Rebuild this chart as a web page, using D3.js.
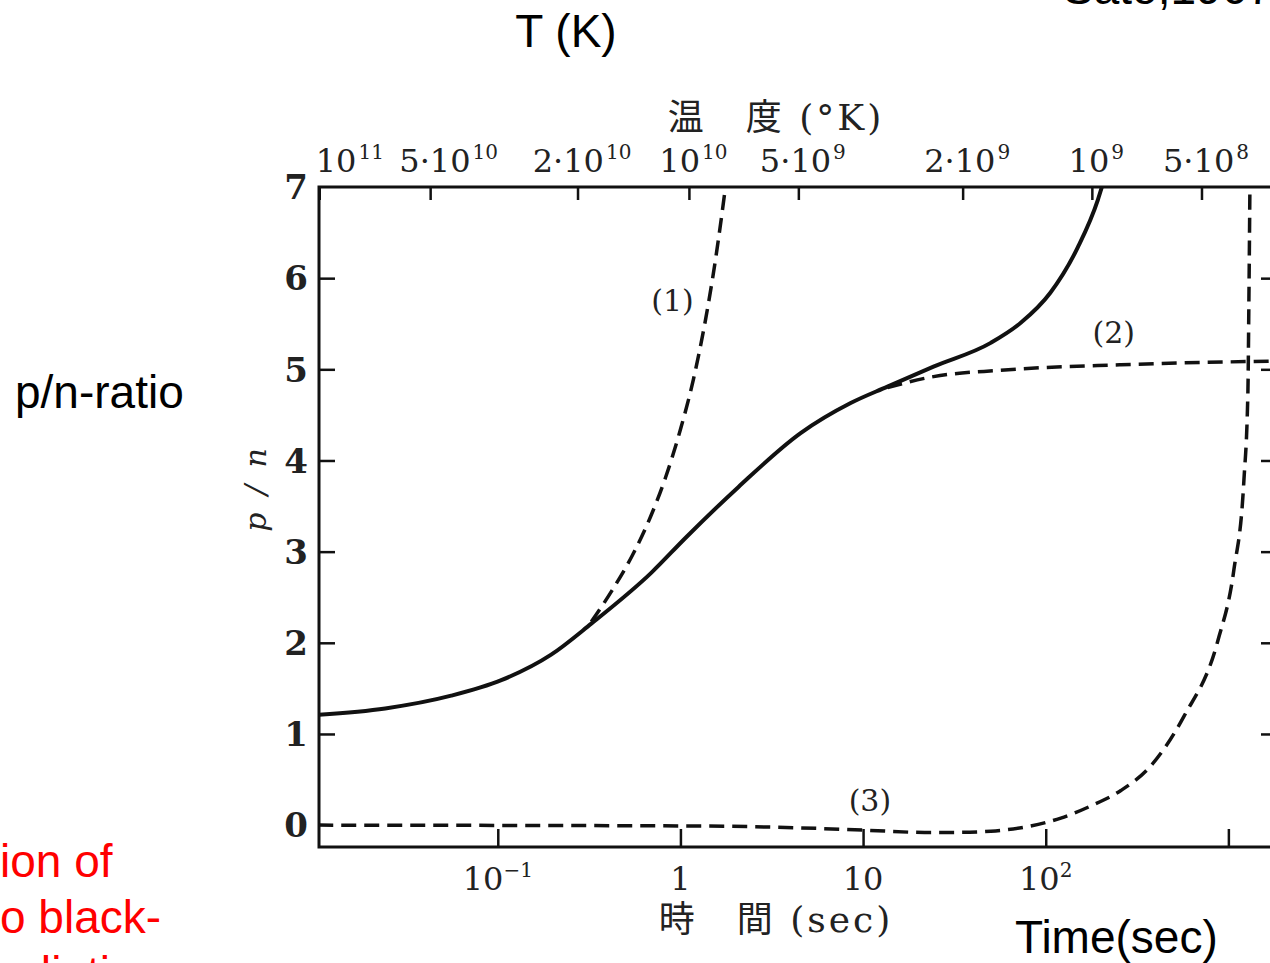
<!DOCTYPE html>
<html><head><meta charset="utf-8">
<script src="https://cdn.jsdelivr.net/npm/d3@7"></script>
<style>body{margin:0;background:#fff;overflow:hidden}</style>
</head><body><svg id="c" width="1270" height="963"></svg>
<script>
// ---- data ----
const yTicks = [0, 1, 2, 3, 4, 5, 6, 7];
const timeTicks = [0.1, 1, 10, 100, 1000];
const timeTickBase = ["10", "1", "10", "10", ""];
const timeTickSup = ["−1", "", "", "2", ""];
const tempTickT = [0.0106, 0.0429, 0.275, 1.12, 4.45, 35.3, 180, 717];
const tempTickBase = ["10", "5·10", "2·10", "10", "5·10", "2·10", "10", "5·10"];
const tempTickSup = ["11", "10", "10", "10", "9", "9", "9", "8"];

const solidT = [0.0104, 0.0242, 0.0556, 0.1045, 0.196, 0.325, 0.694, 1.065, 2.08, 4.55, 8.55, 13.6, 24.3, 50.0, 73.0, 106, 150, 193, 203];
const solidV = [1.21, 1.28, 1.42, 1.59, 1.87, 2.21, 2.77, 3.15, 3.71, 4.30, 4.63, 4.81, 5.03, 5.29, 5.51, 5.84, 6.34, 6.86, 7.0];
const curve1T = [0.325, 0.424, 0.546, 0.685, 0.828, 1.0, 1.178, 1.371, 1.555, 1.765];
const curve1V = [2.23, 2.58, 2.96, 3.38, 3.81, 4.34, 4.89, 5.54, 6.20, 7.0];
const curve2T = [13.6, 24.3, 56.6, 258, 1710];
const curve2V = [4.80, 4.92, 4.99, 5.05, 5.09];
const curve3T = [0.0104, 1.29, 4.54, 10.07, 21.7, 31.7, 50, 82.7, 121, 176.5, 258, 376, 570, 875, 1072, 1216, 1279, 1295, 1312];
const curve3V = [0.0, -0.01, -0.03, -0.055, -0.08, -0.08, -0.066, -0.01, 0.077, 0.21, 0.38, 0.65, 1.19, 2.02, 2.80, 3.78, 4.75, 5.73, 7.0];
const curveLabels = ["(1)", "(2)", "(3)"];
const curveLabelT = [0.904, 236, 10.9];
const curveLabelV = [5.76, 5.41, 0.27];

// ---- drawing ----
const svg = d3.select("#c");
const L = 319, R = 1275, T = 187, B = 847;
const x = d3.scaleLog().domain([0.0105, 1800]).range([L, R]);
const y = d3.scaleLinear().domain([-0.24, 7]).range([B, T]);
const serif = "'DejaVu Serif', serif";

svg.append("defs").append("clipPath").attr("id", "clip")
  .append("rect").attr("x", L).attr("y", T).attr("width", R - L).attr("height", B - T);

// frame
svg.append("rect").attr("x", L).attr("y", T).attr("width", R - L).attr("height", B - T)
  .attr("fill", "none").attr("stroke", "#111").attr("stroke-width", 3);

// left axis ticks (inward)
const yAxis = d3.axisRight(y).tickValues(yTicks.filter(d => d > 0 && d < 7)).tickSize(16).tickFormat("");
svg.append("g").attr("transform", `translate(${L},0)`).call(yAxis)
  .call(g => g.select(".domain").remove())
  .selectAll("line").attr("stroke", "#111").attr("stroke-width", 2.5);
// right axis ticks (inward)
const yAxisR = d3.axisLeft(y).tickValues(yTicks.filter(d => d > 0 && d < 7)).tickSize(14).tickFormat("");
svg.append("g").attr("transform", `translate(${R},0)`).call(yAxisR)
  .call(g => g.select(".domain").remove())
  .selectAll("line").attr("stroke", "#111").attr("stroke-width", 2.5);
// y labels
svg.append("g").selectAll("text").data(yTicks).join("text")
  .attr("x", 308).attr("y", d => y(d)).attr("dy", "0.36em")
  .attr("text-anchor", "end").attr("font-family", serif).attr("font-weight", "bold")
  .attr("font-size", 34).attr("fill", "#222").text(d => d);

// bottom axis ticks (inward)
const xAxis = d3.axisTop(x).tickValues(timeTicks).tickSize(18).tickFormat("");
svg.append("g").attr("transform", `translate(0,${B})`).call(xAxis)
  .call(g => g.select(".domain").remove())
  .selectAll("line").attr("stroke", "#111").attr("stroke-width", 2.5);
const bl = svg.append("g").selectAll("text").data(timeTicks).join("text")
  .attr("x", d => x(d)).attr("y", 890).attr("text-anchor", "middle")
  .attr("font-family", serif).attr("font-size", 32).attr("fill", "#222");
bl.append("tspan").text((d, i) => timeTickBase[i]);
bl.append("tspan").attr("font-size", 20).attr("dy", -13).text((d, i) => timeTickSup[i]);

// top axis ticks (temperature)
svg.append("g").selectAll("line").data(tempTickT).join("line")
  .attr("x1", d => x(d)).attr("x2", d => x(d)).attr("y1", T).attr("y2", T + 13)
  .attr("stroke", "#111").attr("stroke-width", 2.5);
const tl = svg.append("g").selectAll("text").data(tempTickT).join("text")
  .attr("x", (d, i) => i === 0 ? x(d) - 4 : x(d) + (i === 1 ? 18 : 4))
  .attr("y", 172).attr("text-anchor", (d, i) => i === 0 ? "start" : "middle")
  .attr("font-family", serif).attr("font-size", 32).attr("fill", "#222");
tl.append("tspan").text((d, i) => tempTickBase[i]);
tl.append("tspan").attr("font-size", 20).attr("dy", -13).attr("dx", 2).text((d, i) => tempTickSup[i]);

// axis titles (original)
svg.append("text").attr("x", 776).attr("y", 130).attr("text-anchor", "middle")
  .attr("font-family", "'DejaVu Serif','Noto Sans CJK JP',serif").attr("font-size", 36)
  .attr("letter-spacing", 3).attr("fill", "#222").text("温　度 (°K)");
svg.append("text").attr("x", 776).attr("y", 932).attr("text-anchor", "middle")
  .attr("font-family", "'DejaVu Serif','Noto Sans CJK JP',serif").attr("font-size", 36)
  .attr("letter-spacing", 3).attr("fill", "#222").text("時　間 (sec)");
svg.append("text").attr("transform", "translate(266,488) rotate(-90)").attr("text-anchor", "middle")
  .attr("font-family", serif).attr("font-style", "italic").attr("font-size", 30)
  .attr("letter-spacing", 4).attr("fill", "#222").text("p / n");

// curves
const plot = svg.append("g").attr("clip-path", "url(#clip)");
const line = d3.line().x(d => x(d[0])).y(d => y(d[1])).curve(d3.curveMonotoneX);
const zip = (a, b) => a.map((v, i) => [v, b[i]]);
plot.append("path").datum(zip(solidT, solidV)).attr("d", line)
  .attr("fill", "none").attr("stroke", "#111").attr("stroke-width", 4);
[[curve1T, curve1V], [curve2T, curve2V], [curve3T, curve3V]].forEach(([a, b]) => {
  plot.append("path").datum(zip(a, b)).attr("d", line)
    .attr("fill", "none").attr("stroke", "#111").attr("stroke-width", 3.5)
    .attr("stroke-dasharray", "15,8");
});
svg.append("g").selectAll("text").data(curveLabels).join("text")
  .attr("x", (d, i) => x(curveLabelT[i])).attr("y", (d, i) => y(curveLabelV[i])).attr("dy", "0.36em")
  .attr("text-anchor", "middle").attr("font-family", serif).attr("font-size", 30)
  .attr("fill", "#222").text(d => d);

// slide overlay texts
const sans = "'Liberation Sans', Arial, sans-serif";
svg.append("text").attr("x", 566).attr("y", 47).attr("text-anchor", "middle")
  .attr("font-family", sans).attr("font-size", 46).text("T (K)");
svg.append("text").attr("x", 15).attr("y", 408)
  .attr("font-family", sans).attr("font-size", 46).text("p/n-ratio");
svg.append("text").attr("x", 1015).attr("y", 953)
  .attr("font-family", sans).attr("font-size", 46).text("Time(sec)");
svg.append("text").attr("x", 1063).attr("y", 4)
  .attr("font-family", sans).attr("font-size", 46).text("Sato,1967");
const red = ["ion of", "o black-", "adiation"];
svg.append("g").selectAll("text").data(red).join("text")
  .attr("x", 0).attr("y", (d, i) => 877 + i * 56)
  .attr("font-family", sans).attr("font-size", 46).attr("fill", "#ff0000").text(d => d);
</script></body></html>
